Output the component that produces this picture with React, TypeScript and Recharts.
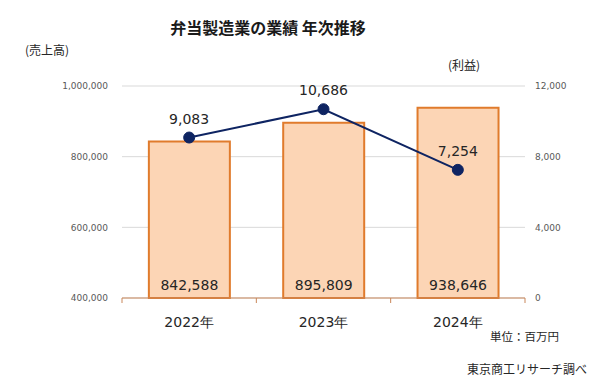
import React from "react";
import {
  ComposedChart,
  Bar,
  Line,
  XAxis,
  YAxis,
  CartesianGrid,
  LabelList,
} from "recharts";

const years = ["2022年", "2023年", "2024年"];
const sales = [842588, 895809, 938646];
const profit = [9083, 10686, 7254];
const salesTicks = [400000, 600000, 800000, 1000000];
const profitTicks = [0, 4000, 8000, 12000];

const data = years.map((year, i) => ({
  year,
  sales: sales[i],
  profit: profit[i],
}));

const FONT = "'DejaVu Sans', Verdana, sans-serif";
const JP = "'Noto Sans CJK JP', sans-serif";

const fmt = (v: number) => v.toLocaleString("en-US");

function CategoryTick(props: any) {
  const { x, y, payload, index, visibleTicksCount } = props;
  const half = payload?.offset ?? 67;
  const last = index === visibleTicksCount - 1;
  return (
    <g>
      <line x1={x - half} y1={y} x2={x - half} y2={y + 5} stroke="#C9875A" />
      {last && (
        <line x1={x + half} y1={y} x2={x + half} y2={y + 5} stroke="#C9875A" />
      )}
      <text
        x={x}
        y={y + 29}
        textAnchor="middle"
        fontSize={14}
        fontFamily={FONT}
        fill="#262626"
      >
        {payload.value}
      </text>
    </g>
  );
}

export default function App() {
  return (
    <div
      style={{
        position: "absolute",
        left: 0,
        top: 0,
        width: 616,
        height: 386,
        background: "#fff",
        fontFamily: JP,
      }}
    >
      <ComposedChart
        width={616}
        height={386}
        data={data}
        margin={{ top: 86, right: 31, bottom: 58, left: 52 }}
        barCategoryGap="20%"
      >
        <CartesianGrid yAxisId="left" vertical={false} stroke="#D9D9D9" />
        <XAxis
          dataKey="year"
          height={30}
          tickSize={0}
          tickMargin={0}
          tickLine={false}
          axisLine={{ stroke: "#C9875A" }}
          tick={<CategoryTick />}
        />
        <YAxis
          yAxisId="left"
          width={70}
          domain={[400000, 1000000]}
          ticks={salesTicks}
          tickFormatter={fmt}
          axisLine={false}
          tickLine={false}
          tickMargin={8}
          tick={{ fontSize: 9, fill: "#595959", fontFamily: FONT }}
        />
        <YAxis
          yAxisId="right"
          orientation="right"
          width={60}
          domain={[0, 12000]}
          ticks={profitTicks}
          tickFormatter={fmt}
          axisLine={false}
          tickLine={false}
          tickMargin={4}
          tick={{ fontSize: 9, fill: "#595959", fontFamily: FONT, textAnchor: "start" }}
        />
        <Bar
          yAxisId="left"
          dataKey="sales"
          fill="#FCD5B5"
          stroke="#E07B2C"
          strokeWidth={2}
          isAnimationActive={false}
        >
          <LabelList
            dataKey="sales"
            position="insideBottom"
            offset={8}
            formatter={(v: any) => fmt(Number(v))}
            style={{ fontSize: 14, fill: "#262626", fontFamily: FONT }}
          />
        </Bar>
        <Line
          yAxisId="right"
          dataKey="profit"
          type="linear"
          stroke="#0E2462"
          strokeWidth={2}
          dot={{ r: 5.5, fill: "#0E2462", stroke: "#0E2462", strokeWidth: 1 }}
          isAnimationActive={false}
        >
          <LabelList
            dataKey="profit"
            position="top"
            offset={14}
            formatter={(v: any) => fmt(Number(v))}
            style={{ fontSize: 14, fill: "#262626", fontFamily: FONT }}
          />
        </Line>
      </ComposedChart>
      <div
        style={{
          position: "absolute",
          left: 0,
          width: 536,
          top: 15,
          textAlign: "center",
          fontSize: 16,
          fontWeight: 700,
          color: "#1a1a1a",
        }}
      >
        弁当製造業の業績 年次推移
      </div>
      <div style={{ position: "absolute", left: 25, top: 41, fontSize: 12, color: "#262626" }}>
        (売上高)
      </div>
      <div style={{ position: "absolute", left: 448, top: 56, fontSize: 12, color: "#262626" }}>
        (利益)
      </div>
      <div style={{ position: "absolute", left: 490, top: 328, fontSize: 11.5, color: "#262626" }}>
        単位：百万円
      </div>
      <div style={{ position: "absolute", left: 467, top: 360, fontSize: 12, color: "#262626" }}>
        東京商工リサーチ調べ
      </div>
    </div>
  );
}
